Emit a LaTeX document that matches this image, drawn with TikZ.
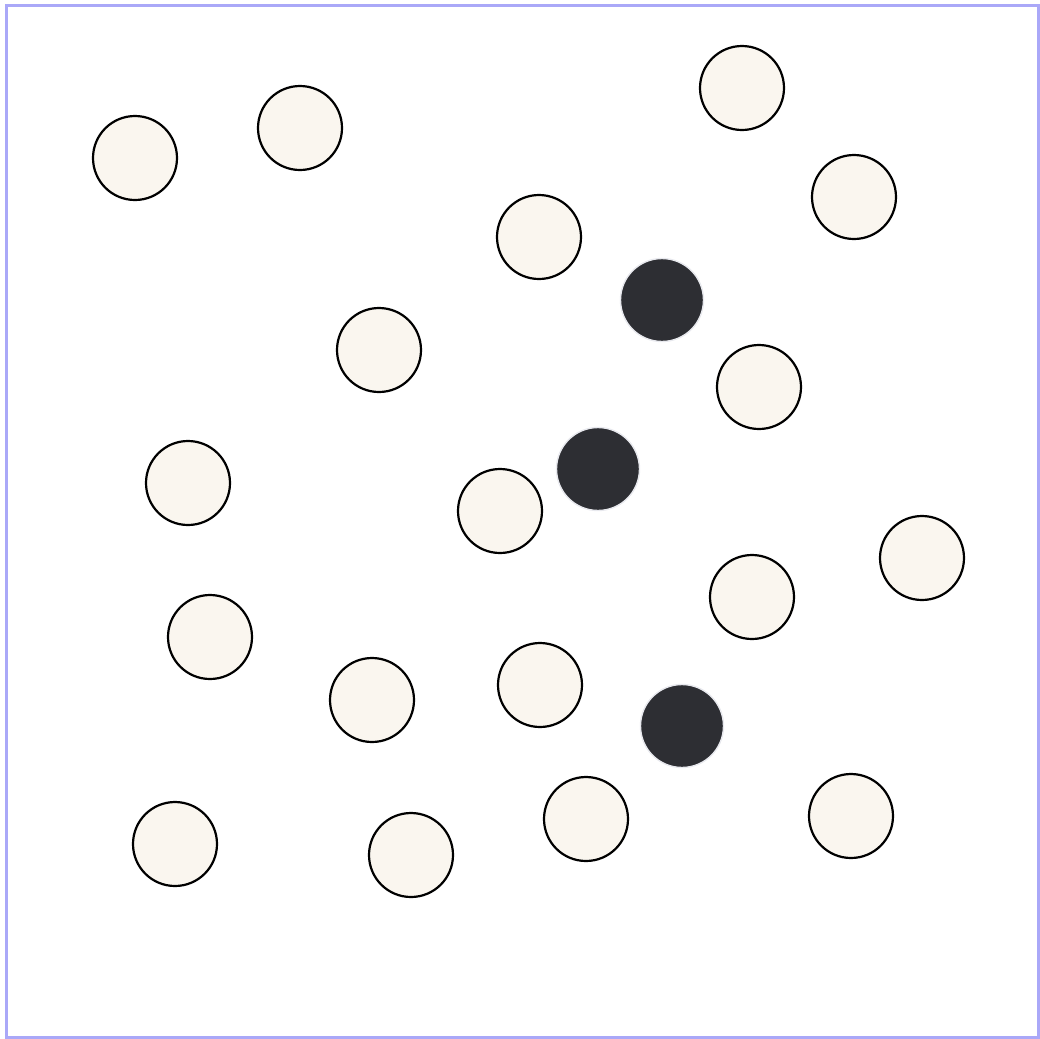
\documentclass[tikz,border=0pt]{standalone}
\definecolor{frame}{HTML}{AAA8F8}
\definecolor{beige}{HTML}{FAF6EF}
\definecolor{darkc}{HTML}{2D2E33}
\definecolor{rimc}{HTML}{E8E9EE}
\tikzset{
  lightdot/.style={circle, draw=black, fill=beige, line width=2.2pt, minimum size=84pt, inner sep=0pt},
  darkdot/.style={circle, draw=rimc, fill=darkc, line width=1.4pt, minimum size=83pt, inner sep=0pt}
}
\begin{document}
\begin{tikzpicture}[x=1pt,y=-1pt]
\useasboundingbox (0,0) rectangle (1039,1039);
\draw[frame, line width=3pt] (6.5,5.5) rectangle (1038.5,1037.5);
\node[lightdot] (l1) at (135,158) {};
\node[lightdot] (l2) at (300,128) {};
\node[lightdot] (l3) at (742,88) {};
\node[lightdot] (l4) at (854,197) {};
\node[lightdot] (l5) at (539,237) {};
\node[lightdot] (l6) at (379,350) {};
\node[lightdot] (l7) at (759,387) {};
\node[lightdot] (l8) at (188,483) {};
\node[lightdot] (l9) at (500,511) {};
\node[lightdot] (l10) at (922,558) {};
\node[lightdot] (l11) at (752,597) {};
\node[lightdot] (l12) at (210,637) {};
\node[lightdot] (l13) at (372,700) {};
\node[lightdot] (l14) at (540,685) {};
\node[lightdot] (l15) at (175,844) {};
\node[lightdot] (l16) at (411,855) {};
\node[lightdot] (l17) at (586,819) {};
\node[lightdot] (l18) at (851,816) {};
\node[darkdot] (d1) at (662,300) {};
\node[darkdot] (d2) at (598,469) {};
\node[darkdot] (d3) at (682,726) {};
\end{tikzpicture}
\end{document}
